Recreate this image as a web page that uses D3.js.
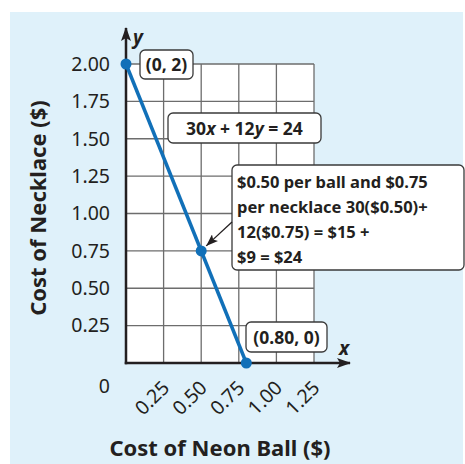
<!DOCTYPE html>
<html><head><meta charset="utf-8">
<script src="https://cdn.jsdelivr.net/npm/d3@7"></script>
<style>
html,body{margin:0;padding:0;background:#fff;}
svg{display:block;font-family:"Noto Sans",sans-serif;}
.semi{font-weight:bold;}
</style></head>
<body>
<script>
// data
const xTicks = [0.25, 0.50, 0.75, 1.00, 1.25];
const yTicks = [0.25, 0.50, 0.75, 1.00, 1.25, 1.50, 1.75, 2.00];
const lineXs = [0, 0.80];
const lineYs = [2, 0];
const pointLabels = ["(0, 2)", "(0.80, 0)"];
const checkPoint = [0.50, 0.75];
const calloutLines = ["$0.50 per ball and $0.75", "per necklace 30($0.50)+", "12($0.75) = $15 +", "$9 = $24"];
const xTitle = "Cost of Neon Ball ($)";
const yTitle = "Cost of Necklace ($)";

const W = 465, H = 464;
const svg = d3.select("body").append("svg").attr("width", W).attr("height", H);
const blue = "#1170b8", ink = "#231f20";

svg.append("rect").attr("x", 10).attr("y", 12).attr("width", 453).attr("height", 452).attr("fill", "#dff1fa");

const x = d3.scaleLinear().domain([0, 1.25]).range([126, 314]);
const y = d3.scaleLinear().domain([0, 2]).range([363, 64]);

// grid area
svg.append("rect").attr("x", x(0)).attr("y", y(2)).attr("width", x(1.25) - x(0)).attr("height", y(0) - y(2)).attr("fill", "#fff");
const g = svg.append("g");
g.selectAll(".vg").data(xTicks).join("line")
  .attr("x1", d => x(d)).attr("x2", d => x(d)).attr("y1", y(2)).attr("y2", y(0))
  .attr("stroke", "#6d6d6d").attr("stroke-width", 1.3);
g.selectAll(".hg").data(yTicks).join("line")
  .attr("x1", x(0)).attr("x2", x(1.25)).attr("y1", d => y(d)).attr("y2", d => y(d))
  .attr("stroke", "#6d6d6d").attr("stroke-width", 1.3);

// axes with arrows
const defs = svg.append("defs");
defs.append("marker").attr("id", "ah").attr("viewBox", "0 0 14 10").attr("refX", 13).attr("refY", 5)
  .attr("markerWidth", 14).attr("markerHeight", 10).attr("markerUnits", "userSpaceOnUse").attr("orient", "auto")
  .append("path").attr("d", "M0,0 L14,5 L0,10 L3,5 Z").attr("fill", ink);
defs.append("marker").attr("id", "sa").attr("viewBox", "0 0 12 9").attr("refX", 12).attr("refY", 4.5)
  .attr("markerWidth", 12).attr("markerHeight", 9).attr("markerUnits", "userSpaceOnUse").attr("orient", "auto")
  .append("path").attr("d", "M0,0 L12,4.5 L0,9 L2.5,4.5 Z").attr("fill", ink);

svg.append("line").attr("x1", x(0) - 1.25).attr("x2", x(1.25) + 36).attr("y1", y(0)).attr("y2", y(0))
  .attr("stroke", ink).attr("stroke-width", 2.5).attr("marker-end", "url(#ah)");
svg.append("line").attr("x1", x(0)).attr("x2", x(0)).attr("y1", y(0) + 1.25).attr("y2", y(2) - 36)
  .attr("stroke", ink).attr("stroke-width", 2.5).attr("marker-end", "url(#ah)");

svg.append("text").attr("x", x(1.25) + 25).attr("y", y(0) - 8).text("x")
  .attr("font-style", "italic").attr("font-weight", "bold").attr("font-size", 19).attr("fill", ink);
svg.append("text").attr("x", x(0) + 7).attr("y", y(2) - 20).text("y")
  .attr("font-style", "italic").attr("font-weight", "bold").attr("font-size", 19).attr("fill", ink);

// tick labels
svg.selectAll(".yt").data(yTicks).join("text")
  .attr("x", 110).attr("y", d => y(d)).attr("dy", "0.35em").attr("text-anchor", "end")
  .attr("font-size", 19.5).attr("fill", ink).text(d => d.toFixed(2));
svg.append("text").attr("x", 110).attr("y", 386).attr("dy", "0.35em").attr("text-anchor", "end")
  .attr("font-size", 19.5).attr("fill", ink).text("0");
svg.selectAll(".xt").data(xTicks).join("text")
  .attr("transform", d => `translate(${x(d) + 7},${389}) rotate(-45)`)
  .attr("text-anchor", "end")
  .attr("font-size", 19.5).attr("fill", ink).text(d => d.toFixed(2));

// titles
svg.append("text").attr("x", 220).attr("y", 456).attr("text-anchor", "middle")
  .attr("font-size", 22).attr("font-weight", "bold").attr("fill", ink).text(xTitle);
svg.append("text").attr("transform", "translate(46,208) rotate(-90)").attr("text-anchor", "middle")
  .attr("font-size", 22).attr("font-weight", "bold").attr("fill", ink).text(yTitle);

// line
svg.append("line").attr("x1", x(lineXs[0])).attr("y1", y(lineYs[0])).attr("x2", x(lineXs[1])).attr("y2", y(lineYs[1]))
  .attr("stroke", blue).attr("stroke-width", 3.5);
const pts = [[lineXs[0], lineYs[0]], [lineXs[1], lineYs[1]], checkPoint];
svg.selectAll(".pt").data(pts).join("circle")
  .attr("cx", d => x(d[0])).attr("cy", d => y(d[1])).attr("r", 5.5).attr("fill", blue);

// label boxes
function box(x0, y0, w, h) {
  svg.append("rect").attr("x", x0).attr("y", y0).attr("width", w).attr("height", h).attr("rx", 5)
    .attr("fill", "#fff").attr("stroke", "#3a3a3a").attr("stroke-width", 1.3);
}
box(140, 50, 53, 29);
svg.append("text").attr("class", "semi").attr("x", 166.5).attr("y", 71).attr("text-anchor", "middle")
  .attr("font-size", 17.5).attr("fill", ink).text(pointLabels[0]);
box(246, 322, 81, 30);
svg.append("text").attr("class", "semi").attr("x", 286.5).attr("y", 343.5).attr("text-anchor", "middle")
  .attr("font-size", 17.5).attr("fill", ink).text(pointLabels[1]);

box(168, 113, 153, 30);
const eq = svg.append("text").attr("class", "semi").attr("x", 244.5).attr("y", 134.5).attr("text-anchor", "middle")
  .attr("font-size", 17.5).attr("fill", ink);
eq.append("tspan").text("30");
eq.append("tspan").attr("font-style", "italic").text("x");
eq.append("tspan").text(" + 12");
eq.append("tspan").attr("font-style", "italic").text("y");
eq.append("tspan").text(" = 24");

box(232, 165, 232, 105);
svg.selectAll(".cl").data(calloutLines).join("text")
  .attr("x", 237).attr("y", (d, i) => 188 + i * 25)
  .attr("font-size", 16.5).attr("font-weight", "bold").attr("fill", ink).text(d => d);

svg.append("line").attr("x1", 232).attr("y1", 222).attr("x2", x(checkPoint[0]) + 5).attr("y2", y(checkPoint[1]) - 5)
  .attr("stroke", ink).attr("stroke-width", 1.3).attr("marker-end", "url(#sa)");
</script>
</body></html>
